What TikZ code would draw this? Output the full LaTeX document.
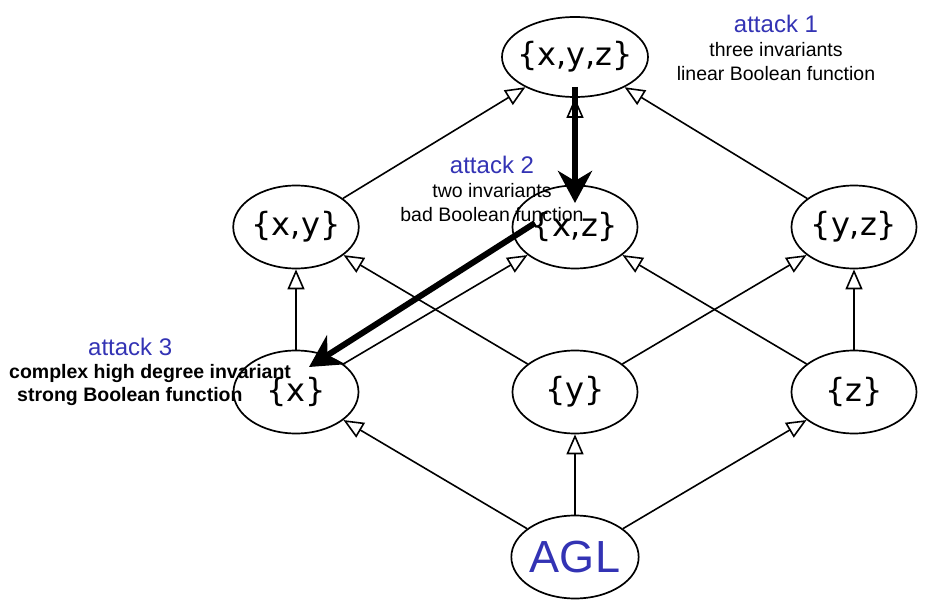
\documentclass[tikz,border=0pt]{standalone}
\usepackage{fontspec}
\setmainfont{Liberation Sans}
\newfontfamily\setfont{DejaVu Sans}
\usepackage{xcolor}
\usetikzlibrary{positioning, arrows.meta, shapes.geometric}

\definecolor{attackblue}{RGB}{51,51,180}

\begin{document}
\begin{tikzpicture}[
    x=1pt, y=1pt,
    node distance=165pt and 279pt,
    on grid,
    setnode/.style={
        ellipse,
        draw=black,
        line width=1.7pt,
        minimum width=125pt,
        minimum height=83pt,
        inner sep=0pt,
        font=\setfont\fontsize{32}{36}\selectfont
    },
    sub/.style={
        line width=1.6pt,
        -{Triangle[open, length=20pt, width=17pt]}
    },
    attackarrow/.style={
        line width=6pt,
        -{Stealth[length=32pt, width=34pt, inset=10pt]}
    },
    note/.style={
        align=center,
        inner sep=0pt,
        font=\fontsize{19.5}{24}\selectfont
    }
]
\useasboundingbox (0,0) rectangle (930,606);

% Nodes
\node[setnode, text=attackblue, font=\fontsize{45}{50}\selectfont] (agl) at (575,49) {AGL};
\node[setnode, above=of agl] (y) {\{y\}};
\node[setnode, left=of y] (x) {\{x\}};
\node[setnode, right=of y] (z) {\{z\}};
\node[setnode, above=of x] (xy) {\{x,y\}};
\node[setnode, above=of y] (xz) {\{x,z\}};
\node[setnode, above=of z] (yz) {\{y,z\}};
\node[setnode, above=170pt of xz, minimum width=146pt, minimum height=80pt, inner xsep=-10pt] (xyz) {\{x,y,z\}};

% Order edges
\draw[sub] (agl) -- (x);
\draw[sub] (agl) -- (y);
\draw[sub] (agl) -- (z);
\draw[sub] (x) -- (xy);
\draw[sub] (x) -- (xz);
\draw[sub] (y) -- (xy);
\draw[sub] (y) -- (yz);
\draw[sub] (z) -- (xz);
\draw[sub] (z) -- (yz);
\draw[sub] (xy) -- (xyz);
\draw[sub] (xz) -- (xyz);
\draw[sub] (yz) -- (xyz);

% Attacks
\draw[attackarrow] ([yshift=-30pt]xyz.center) -- ([yshift=24pt]xz.center);
\draw[attackarrow] ([xshift=-40pt, yshift=4pt]xz.center) -- ([xshift=13pt, yshift=25pt]x.center);

\node[note] (attack1) at (776,558) {{\color{attackblue}\fontsize{24}{28}\selectfont attack 1}\\three invariants\\linear Boolean function};
\node[note] (attack2) at (492,417) {{\color{attackblue}\fontsize{24}{28}\selectfont attack 2}\\two invariants\\bad Boolean function};
\node[note, align=left, anchor=west, font=\bfseries\fontsize{19.5}{23}\selectfont] (attack3) at (9,234) {\hspace*{79pt}{\color{attackblue}\mdseries\fontsize{24}{28}\selectfont attack 3}\\complex high degree invariant\\\hspace*{8pt}strong Boolean function};
\end{tikzpicture}
\end{document}
